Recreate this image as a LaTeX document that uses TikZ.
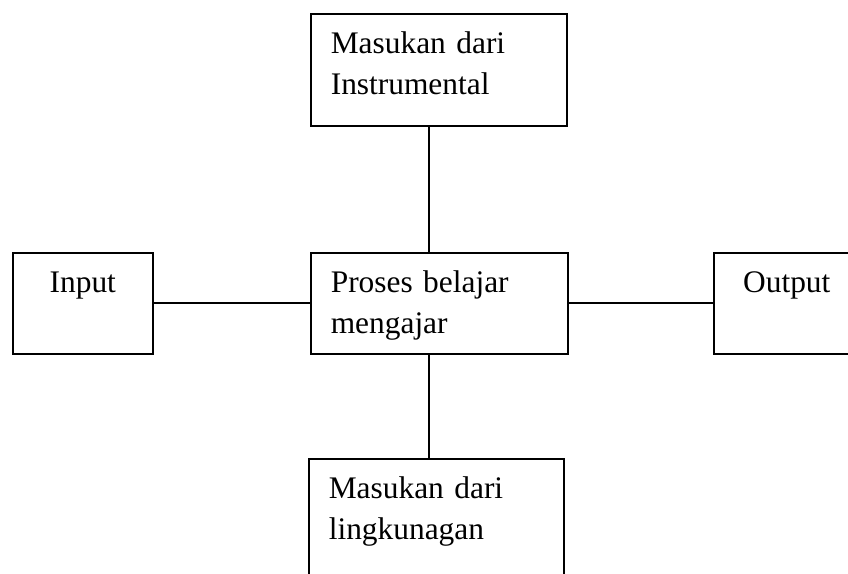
\documentclass[tikz,border=0pt]{standalone}
\usepackage{fontspec}
\setmainfont{Liberation Serif}
\usepackage{tikz}
\usetikzlibrary{positioning,calc}
\tikzset{
         kotak/.style=
          {
           draw,
           line width=0.8pt,
           rectangle,
           anchor=north west,
           inner xsep=10pt,
           inner ysep=0pt,
           text height=20pt,
           font=\fontsize{15.7}{20.25}\selectfont
          },
         garis/.style={line width=0.9pt}
        }

\begin{document}
\begin{tikzpicture}[x=0.5pt,y=-0.5pt]
\useasboundingbox (0,0) rectangle (848,574);
\clip (0,0) rectangle (848,574);

\node[kotak,text width=108pt,text depth=36pt,align=left] (masukanInstr) at (310,13) {Masukan dari\\Instrumental}; %atas
\node[kotak,text width=108.5pt,text depth=30.5pt,align=left] (proses) at (310,252) {Proses belajar\\mengajar}; %tengah
\node[kotak,text width=50pt,text depth=30.5pt,align=center] (input) at (12,252) {Input}; %kiri
\node[kotak,text width=53pt,text depth=30.5pt,align=center] (output) at (713,252) {Output}; %kanan
\node[kotak,text width=107.5pt,text depth=45pt,align=left] (masukanLing) at (308,458) {Masukan dari\\lingkunagan}; %bawah

\coordinate (sumbu) at (429,0); %garis tegak
\draw[garis] (masukanInstr.south -| sumbu)--(proses.north -| sumbu);
\draw[garis] (proses.south -| sumbu)--(masukanLing.north -| sumbu);
\draw[garis] (input.east)--(proses.west);
\draw[garis] (proses.east)--(output.west);
\end{tikzpicture}
\end{document}
